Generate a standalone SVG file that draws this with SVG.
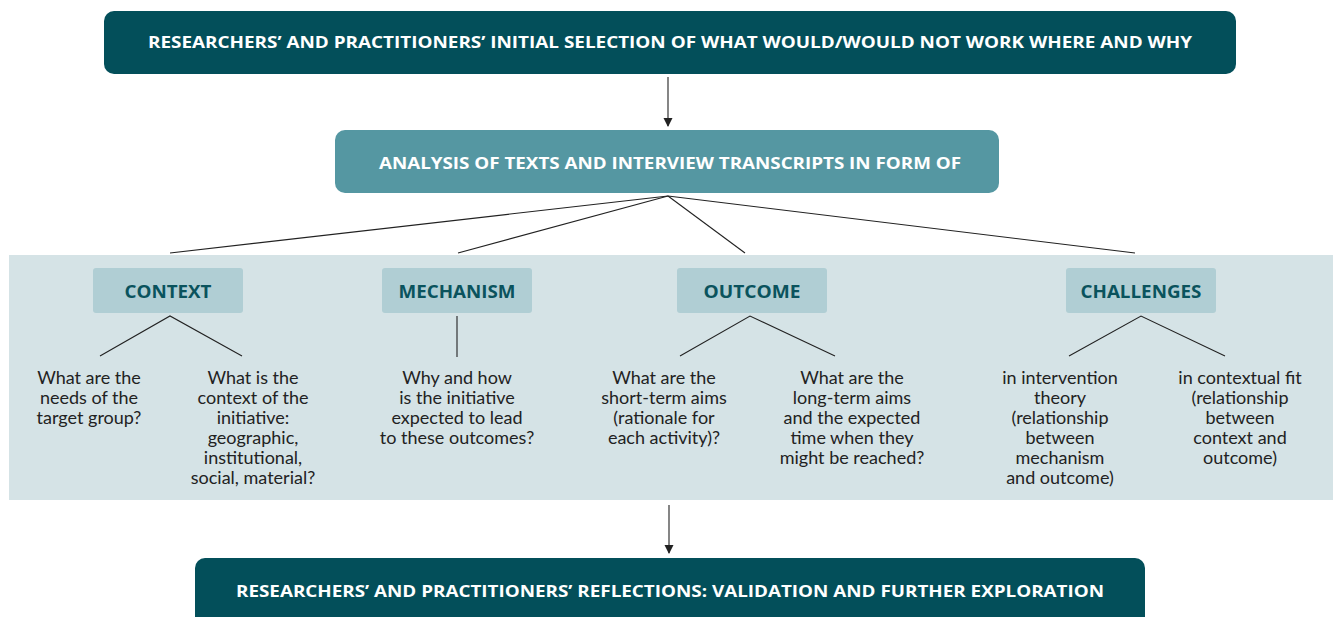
<svg xmlns="http://www.w3.org/2000/svg" width="1333" height="617" viewBox="0 0 1333 617">
<defs>
<style>
.dark{fill:#034f5a}
.mid{fill:#5597a2}
.panel{fill:#d5e3e6}
.head{fill:#b0ced4}
.t1{font-family:"Open Sans","Liberation Sans",sans-serif;font-weight:700;font-size:16.5px;fill:#ffffff;text-anchor:middle}
.t2{font-family:"Open Sans","Liberation Sans",sans-serif;font-weight:700;font-size:17px;fill:#0a535d;text-anchor:middle}
.body{font-family:Lato,"Liberation Sans",sans-serif;font-size:18px;fill:#222222;text-anchor:middle}
.ln{stroke:#222;stroke-width:1.1;fill:none}
.arr{stroke:#444;stroke-width:1.3;fill:none}
</style>
<marker id="ah" markerWidth="10" markerHeight="10" refX="8" refY="5" orient="auto" markerUnits="userSpaceOnUse">
<path d="M0,0.5 L9,5 L0,9.5 Z" fill="#222"/>
</marker>
</defs>
<rect width="1333" height="617" fill="#ffffff"/>
<rect x="9" y="255" width="1324" height="245" class="panel"/>

<g id="connectors">
<line x1="668" y1="77" x2="668" y2="126" class="arr" marker-end="url(#ah)"/>
<line x1="668" y1="196" x2="170" y2="253" class="ln"/>
<line x1="668" y1="196" x2="458" y2="253" class="ln"/>
<line x1="668" y1="196" x2="745" y2="253" class="ln"/>
<line x1="668" y1="196" x2="1135" y2="253" class="ln"/>
<path d="M100,356 L170,316 L242,356" class="ln"/>
<line x1="457" y1="316" x2="457" y2="357" class="ln"/>
<path d="M680,356 L750,316 L835,356" class="ln"/>
<path d="M1069,356 L1141,316 L1225,356" class="ln"/>
<line x1="669" y1="505" x2="669" y2="553" class="arr" marker-end="url(#ah)"/>
</g>

<g id="top">
<rect x="104" y="11" width="1132" height="63" rx="10" class="dark"/>
<text x="670" y="48" class="t1" textLength="1044" lengthAdjust="spacingAndGlyphs">RESEARCHERS’ AND PRACTITIONERS’ INITIAL SELECTION OF WHAT WOULD/WOULD NOT WORK WHERE AND WHY</text>
</g>

<g id="analysis">
<rect x="335" y="130" width="664" height="63" rx="10" class="mid"/>
<text x="670" y="169" class="t1" textLength="582" lengthAdjust="spacingAndGlyphs">ANALYSIS OF TEXTS AND INTERVIEW TRANSCRIPTS IN FORM OF</text>
</g>

<g id="context">
<rect x="93" y="268" width="150" height="45" rx="3" class="head"/>
<text x="168" y="298" class="t2" textLength="87" lengthAdjust="spacingAndGlyphs">CONTEXT</text>
</g>
<g id="context-needs">
<text class="body"><tspan x="89" y="384">What are the</tspan><tspan x="89" y="404">needs of the</tspan><tspan x="89" y="424">target group?</tspan></text>
</g>
<g id="context-initiative">
<text class="body"><tspan x="253" y="384">What is the</tspan><tspan x="253" y="404">context of the</tspan><tspan x="253" y="424">initiative:</tspan><tspan x="253" y="444">geographic,</tspan><tspan x="253" y="464">institutional,</tspan><tspan x="253" y="484">social, material?</tspan></text>
</g>

<g id="mechanism">
<rect x="382" y="268" width="150" height="45" rx="3" class="head"/>
<text x="457" y="298" class="t2" textLength="117" lengthAdjust="spacingAndGlyphs">MECHANISM</text>
</g>
<g id="mechanism-text">
<text class="body"><tspan x="457" y="384">Why and how</tspan><tspan x="457" y="404">is the initiative</tspan><tspan x="457" y="424">expected to lead</tspan><tspan x="457" y="444">to these outcomes?</tspan></text>
</g>

<g id="outcome">
<rect x="677" y="268" width="150" height="45" rx="3" class="head"/>
<text x="752" y="298" class="t2" textLength="97" lengthAdjust="spacingAndGlyphs">OUTCOME</text>
</g>
<g id="outcome-short">
<text class="body"><tspan x="664" y="384">What are the</tspan><tspan x="664" y="404">short-term aims</tspan><tspan x="664" y="424">(rationale for</tspan><tspan x="664" y="444">each activity)?</tspan></text>
</g>
<g id="outcome-long">
<text class="body"><tspan x="852" y="384">What are the</tspan><tspan x="852" y="404">long-term aims</tspan><tspan x="852" y="424">and the expected</tspan><tspan x="852" y="444">time when they</tspan><tspan x="852" y="464">might be reached?</tspan></text>
</g>

<g id="challenges">
<rect x="1066" y="268" width="150" height="45" rx="3" class="head"/>
<text x="1141" y="298" class="t2" textLength="121" lengthAdjust="spacingAndGlyphs">CHALLENGES</text>
</g>
<g id="challenges-theory">
<text class="body"><tspan x="1060" y="384">in intervention</tspan><tspan x="1060" y="404">theory</tspan><tspan x="1060" y="424">(relationship</tspan><tspan x="1060" y="444">between</tspan><tspan x="1060" y="464">mechanism</tspan><tspan x="1060" y="484">and outcome)</tspan></text>
</g>
<g id="challenges-fit">
<text class="body"><tspan x="1240" y="384">in contextual fit</tspan><tspan x="1240" y="404">(relationship</tspan><tspan x="1240" y="424">between</tspan><tspan x="1240" y="444">context and</tspan><tspan x="1240" y="464">outcome)</tspan></text>
</g>

<g id="bottom">
<rect x="195" y="558" width="950" height="75" rx="10" class="dark"/>
<text x="670" y="597" class="t1" textLength="868" lengthAdjust="spacingAndGlyphs">RESEARCHERS’ AND PRACTITIONERS’ REFLECTIONS: VALIDATION AND FURTHER EXPLORATION</text>
</g>
</svg>
